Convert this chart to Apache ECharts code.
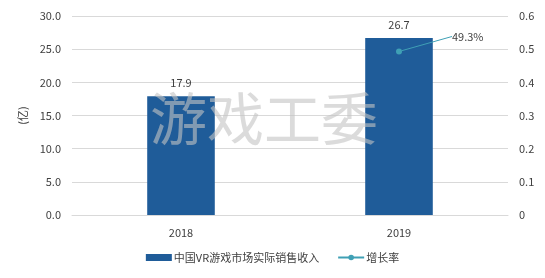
<!DOCTYPE html>
<html><head><meta charset="utf-8">
<script src="https://cdn.jsdelivr.net/npm/echarts@6/dist/echarts.min.js"></script>
<style>html,body{margin:0;padding:0;background:#fff}#c{width:545px;height:278px}</style>
</head><body><div id="c"></div>
<script>
const categories = ['2018', '2019'];
const revenue = [17.9, 26.7];
const growth = [null, 0.493];
const leftTicks = [0, 5, 10, 15, 20, 25, 30];
const rightTicks = [0, 0.1, 0.2, 0.3, 0.4, 0.5, 0.6];
const seriesNames = ['中国VR游戏市场实际销售收入', '增长率'];

const chart = echarts.init(document.getElementById('c'));
const font = '"Noto Sans CJK SC", "Noto Sans", sans-serif';
chart.setOption({
  animation: false,
  textStyle: { fontFamily: font },
  grid: { left: 72, right: 37, top: 16, bottom: 63 },
  xAxis: {
    type: 'category', data: categories,
    axisLine: { lineStyle: { color: '#d9d9d9' } },
    axisTick: { show: false },
    axisLabel: { color: '#404040', fontSize: 11, margin: 12, fontFamily: font }
  },
  yAxis: [{
    type: 'value', min: leftTicks[0], max: leftTicks[leftTicks.length - 1], interval: 5,
    name: '(亿)', nameLocation: 'middle', nameRotate: 90, nameGap: 43,
    nameTextStyle: { color: '#404040', fontSize: 11 },
    axisLabel: { color: '#404040', fontSize: 11, margin: 11, formatter: v => v.toFixed(1) },
    splitLine: { lineStyle: { color: '#d9d9d9' } },
    axisLine: { show: false }, axisTick: { show: false }
  }, {
    type: 'value', min: rightTicks[0], max: rightTicks[rightTicks.length - 1], interval: 0.1,
    axisLabel: { color: '#404040', fontSize: 11, margin: 11, formatter: v => v === 0 ? '0' : v.toFixed(1) },
    splitLine: { show: false }, axisLine: { show: false }, axisTick: { show: false }
  }],
  legend: {
    bottom: 10, left: 'center', itemGap: 18, itemWidth: 26, itemHeight: 7,
    textStyle: { color: '#404040', fontSize: 11, padding: [0, 0, 0, -3] },
    data: [{ name: seriesNames[0], icon: 'rect' }, { name: seriesNames[1] }]
  },
  series: [{
    name: seriesNames[0], type: 'bar', data: revenue, barWidth: '31%',
    itemStyle: { color: '#1f5c99' },
    label: { show: true, position: 'top', color: '#404040', fontSize: 11, distance: 8, formatter: p => p.value.toFixed(1) }
  }, {
    name: seriesNames[1], type: 'line', yAxisIndex: 1, data: growth,
    symbol: 'circle', symbolSize: 6,
    itemStyle: { color: '#3fa0b5' }, lineStyle: { color: '#3fa0b5', width: 2 },
    label: { show: true, color: '#404040', fontSize: 11, position: 'right',
      formatter: p => (p.value * 100).toFixed(1) + '%' },
    labelLayout: { dx: 45, dy: -15 },
    labelLine: { show: true, lineStyle: { color: '#3fa0b5', width: 1 } }
  }],
  graphic: [{
    type: 'text', left: 150, top: 90, z: 100,
    style: { text: '游戏工委', fontSize: 57, fontFamily: font, fill: 'rgba(195,195,195,0.6)', fontWeight: 'normal' }
  }]
});
</script></body></html>
